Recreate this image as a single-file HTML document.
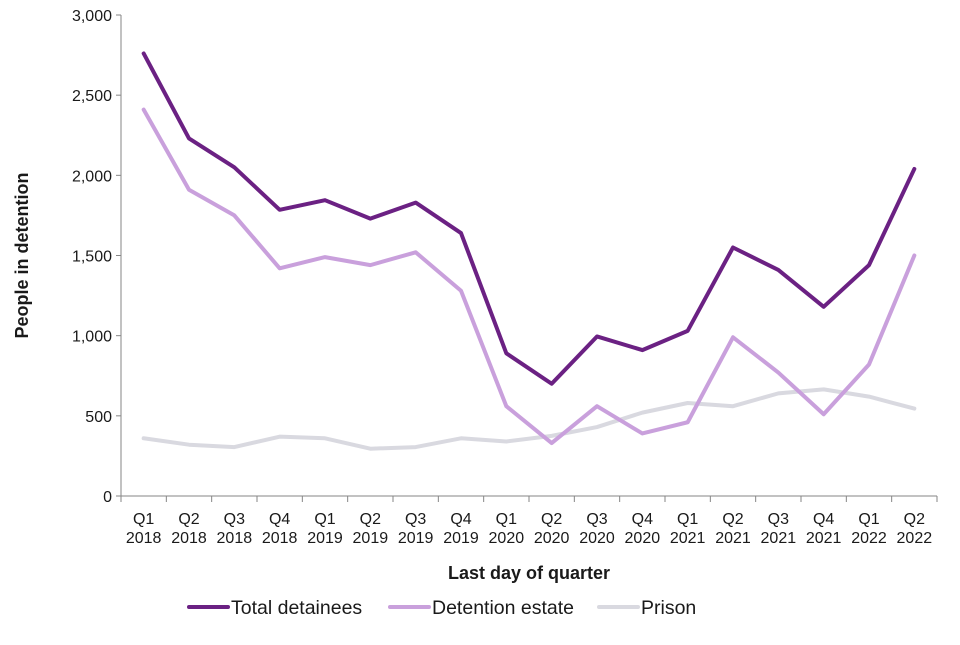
<!DOCTYPE html>
<html><head><meta charset="utf-8"><style>
body{margin:0;background:#fff;font-family:"Liberation Sans",Arial,sans-serif}
svg text{font-family:"Liberation Sans",Arial,sans-serif;fill:#1a1a1a}
</style></head><body>
<svg id="chart" width="960" height="640"></svg>
<script>
const categories=["Q1|2018","Q2|2018","Q3|2018","Q4|2018","Q1|2019","Q2|2019","Q3|2019","Q4|2019","Q1|2020","Q2|2020","Q3|2020","Q4|2020","Q1|2021","Q2|2021","Q3|2021","Q4|2021","Q1|2022","Q2|2022"];
const totalDetainees=[2760,2230,2050,1785,1845,1730,1830,1640,890,700,995,910,1030,1550,1410,1180,1440,2040];
const detentionEstate=[2410,1910,1750,1420,1490,1440,1520,1280,560,330,560,390,460,990,770,510,820,1500];
const prison=[360,320,305,370,360,295,305,360,340,375,430,520,580,560,640,665,620,545];
const yTicks=[0,500,1000,1500,2000,2500,3000];
const yTickLabels=["0","500","1,000","1,500","2,000","2,500","3,000"];

const NS="http://www.w3.org/2000/svg";
const svg=document.getElementById('chart');
const L=121,R=937,T=15,B=496,yMax=3000;
const band=(R-L)/categories.length;
const x=i=>L+band*(i+0.5);
const y=v=>B-(v/yMax)*(B-T);
function mk(tag,attrs,parent){const e=document.createElementNS(NS,tag);for(const k in attrs)e.setAttribute(k,attrs[k]);(parent||svg).appendChild(e);return e;}

const yAxis=mk('g',{});


mk('line',{x1:L,y1:T,x2:L,y2:B,stroke:'#868686','stroke-width':1},yAxis);
yTicks.forEach((t,i)=>{
  mk('line',{x1:L-5,y1:y(t),x2:L,y2:y(t),stroke:'#868686'},yAxis);
  const tx=mk('text',{x:L-9,y:y(t)+6,'text-anchor':'end','font-size':16},yAxis);
  tx.textContent=yTickLabels[i];
  
  
});
const xAxis=mk('g',{});


mk('line',{x1:L,y1:B,x2:R,y2:B,stroke:'#868686'},xAxis);
for(let i=0;i<=categories.length;i++){mk('line',{x1:L+band*i,y1:B,x2:L+band*i,y2:B+6,stroke:'#868686'},xAxis);}
categories.forEach((c,i)=>{
  const [q,yr]=c.split('|');
  const t1=mk('text',{x:x(i),y:B+28,'text-anchor':'middle','font-size':16},xAxis);t1.textContent=q;
  
  
  const t2=mk('text',{x:x(i),y:B+47,'text-anchor':'middle','font-size':16},xAxis);t2.textContent=yr;
  
  
});
const yt=mk('text',{x:0,y:0,'text-anchor':'middle','font-size':18,'font-weight':'bold',transform:`translate(28,${(T+B)/2}) rotate(-90)`});
yt.textContent='People in detention';


const xt=mk('text',{x:(L+R)/2,y:579,'text-anchor':'middle','font-size':18,'font-weight':'bold'});
xt.textContent='Last day of quarter';



function series(vals,color,name){
  const p=mk('polyline',{points:vals.map((v,i)=>x(i)+','+y(v)).join(' '),fill:'none',stroke:color,'stroke-width':4,'stroke-linejoin':'round','stroke-linecap':'round'});
  
  
}
series(prison,'#d9d9e0','prison-line');
series(detentionEstate,'#c9a0dc','detention-estate-line');
series(totalDetainees,'#6b2183','total-detainees-line');

const legend=[["Total detainees","#6b2183",189],["Detention estate","#c9a0dc",390],["Prison","#d9d9e0",599]];
legend.forEach(([n,c,lx])=>{
  const g=mk('g',{});
  
  
  mk('line',{x1:lx,y1:607,x2:lx+39,y2:607,stroke:c,'stroke-width':4,'stroke-linecap':'round'},g);
  const t=mk('text',{x:lx+42,y:614,'font-size':19.5},g);t.textContent=n;
});
</script>
</body></html>
